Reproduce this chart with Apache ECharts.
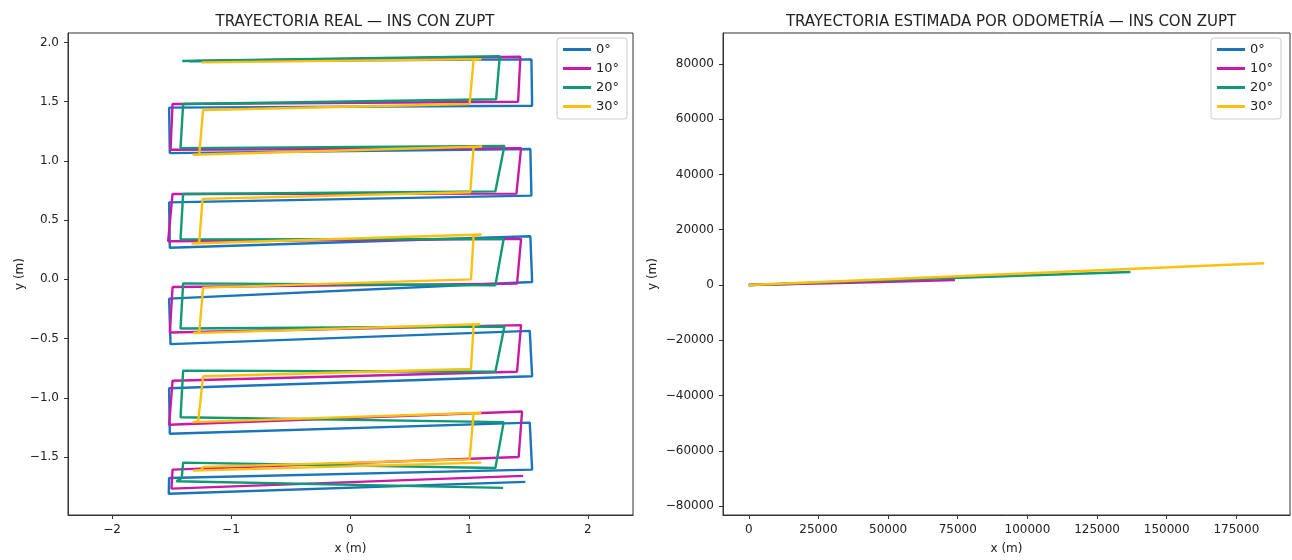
<!DOCTYPE html>
<html>
<head>
<meta charset="utf-8">
<script src="https://cdn.jsdelivr.net/npm/echarts@6/dist/echarts.min.js"></script>
<style>
  html, body { margin: 0; padding: 0; background: #fff; }
  #chart { width: 1292px; height: 560px; }
</style>
</head>
<body>
<div id="chart"></div>
<script>
// leyenda / series
const angles = ['0°', '10°', '20°', '30°']
const colors = ['#1a75bb', '#c81aa6', '#0f9a74', '#fdbf10']

// trayectoria real (x, y en metros)
const real0 = [
    [-1.35, 1.84], [1.526, 1.857], [1.532, 1.466], [-1.52, 1.45], [-1.514, 1.066],
    [1.517, 1.10], [1.526, 0.707], [-1.52, 0.65], [-1.514, 0.267], [1.517, 0.364],
    [1.532, -0.023], [-1.52, -0.163], [-1.508, -0.547], [1.512, -0.435], [1.532, -0.819],
    [-1.52, -0.92], [-1.514, -1.304], [1.512, -1.21], [1.532, -1.607], [-1.52, -1.677],
    [-1.523, -1.81], [1.475, -1.71]
]
const real10 = [
    [-1.3, 1.845], [1.433, 1.879], [1.414, 1.50], [-1.491, 1.481], [-1.508, 1.094],
    [1.439, 1.108], [1.40, 0.724], [-1.491, 0.721], [-1.528, 0.322], [1.439, 0.342],
    [1.405, -0.036], [-1.491, -0.065], [-1.514, -0.449], [1.439, -0.387], [1.405, -0.78],
    [-1.491, -0.856], [-1.52, -1.228], [1.447, -1.116], [1.419, -1.50], [-1.491, -1.607],
    [-1.50, -1.767], [1.456, -1.66]
]
const real20 = [
    [-1.41, 1.843], [1.26, 1.885], [1.27, 1.90], [1.265, 1.885], [1.229, 1.52], [-1.402, 1.481],
    [-1.424, 1.108], [1.299, 1.127], [1.223, 0.743], [-1.402, 0.721], [-1.424, 0.337],
    [1.293, 0.342], [1.223, -0.05], [-1.402, -0.034], [-1.424, -0.415], [1.299, -0.398],
    [1.223, -0.78], [-1.402, -0.771], [-1.424, -1.164], [1.293, -1.206], [1.223, -1.593],
    [-1.402, -1.548], [-1.414, -1.677], [-1.458, -1.705], [1.288, -1.761]
]
const real30 = [
    [-1.247, 1.832], [1.105, 1.859], [1.04, 1.851], [1.006, 1.481], [-1.234, 1.43],
    [-1.267, 1.052], [-1.323, 1.052], [1.111, 1.122], [1.04, 1.118], [1.012, 0.735],
    [-1.239, 0.679], [-1.267, 0.309], [-1.331, 0.303], [1.105, 0.379], [1.04, 0.372],
    [1.018, 0.0], [-1.234, -0.07], [-1.267, -0.449], [-1.318, -0.454], [1.096, -0.379],
    [1.04, -0.385], [1.018, -0.757], [-1.234, -0.819], [-1.276, -1.20], [-1.323, -1.206],
    [1.105, -1.127], [1.04, -1.135], [1.006, -1.52], [-1.234, -1.584], [-1.25, -1.61],
    [-1.32, -1.615], [1.105, -1.548]
]

// trayectoria estimada por odometría (m)
const odo0 = [[0, 0], [20000, 500]]
const odo10 = [[0, 0], [40000, 900], [74000, 1800]]
const odo20 = [[0, 0], [70000, 2400], [137000, 4700]]
const odo30 = [[0, 0], [90000, 3800], [185000, 7900]]

// ticks
const realXTicks = [-2, -1, 0, 1, 2]
const realYTicks = [-1.5, -1, -0.5, 0, 0.5, 1, 1.5, 2]
const odoXTicks = [0, 25000, 50000, 75000, 100000, 125000, 150000, 175000]
const odoYTicks = [-80000, -60000, -40000, -20000, 0, 20000, 40000, 60000, 80000]

const realSeries = [real0, real10, real20, real30]
const odoSeries = [odo0, odo10, odo20, odo30]

const minus = s => String(s).replace('-', '\u2212')
const txt = '#222'
const font = 'DejaVu Sans'

const axisBase = (ticks, fmt) => ({
    type: 'value',
    splitLine: { show: false },
    axisLine: { show: true, onZero: false, lineStyle: { color: '#333', width: 1 } },
    axisTick: { show: true, length: 4, customValues: ticks, lineStyle: { color: '#333' } },
    axisLabel: {
        customValues: ticks, color: txt, fontSize: 12, fontFamily: font, margin: 9,
        formatter: v => minus(fmt(v))
    },
    nameLocation: 'middle',
    nameTextStyle: { color: txt, fontSize: 12, fontFamily: font }
})

const legendBase = {
    data: angles,
    orient: 'vertical',
    icon: 'rect',
    itemWidth: 28,
    itemHeight: 3,
    itemGap: 6,
    padding: [5, 8, 6, 6],
    borderColor: '#ccc',
    borderWidth: 1,
    borderRadius: 3,
    textStyle: { color: txt, fontSize: 13, fontFamily: font }
}

const series = []
realSeries.forEach((d, i) => series.push({
    name: angles[i], type: 'line', xAxisIndex: 0, yAxisIndex: 0, data: d,
    showSymbol: false, color: colors[i], lineStyle: { width: 2.4 }
}))
odoSeries.forEach((d, i) => series.push({
    name: angles[i], type: 'line', xAxisIndex: 1, yAxisIndex: 1, data: d,
    showSymbol: false, color: colors[i], lineStyle: { width: 2.5 }
}))

let myChart = echarts.init(document.getElementById('chart'))
myChart.setOption({
    animation: false,
    backgroundColor: '#fff',
    title: [
        { text: 'TRAYECTORIA REAL — INS CON ZUPT', left: 350, top: 10, textAlign: 'center',
          textStyle: { color: txt, fontSize: 15, fontWeight: 'normal', fontFamily: font } },
        { text: 'TRAYECTORIA ESTIMADA POR ODOMETRÍA — INS CON ZUPT', left: 1006, top: 10, textAlign: 'center',
          textStyle: { color: txt, fontSize: 15, fontWeight: 'normal', fontFamily: font } }
    ],
    legend: [
        Object.assign({}, legendBase, { left: 557, top: 38 }),
        Object.assign({}, legendBase, { left: 1211, top: 38 })
    ],
    grid: [
        { left: 68, top: 33, width: 565, height: 483, show: true, borderColor: '#333', borderWidth: 1 },
        { left: 723, top: 33, width: 567, height: 482, show: true, borderColor: '#333', borderWidth: 1 }
    ],
    xAxis: [
        Object.assign(axisBase(realXTicks, v => v), { gridIndex: 0, min: -2.37, max: 2.38, name: 'x (m)', nameGap: 28 }),
        Object.assign(axisBase(odoXTicks, v => v), { gridIndex: 1, min: -9250, max: 194250, name: 'x (m)', nameGap: 28 })
    ],
    yAxis: [
        Object.assign(axisBase(realYTicks, v => v.toFixed(1)), { gridIndex: 0, min: -1.99, max: 2.08, name: 'y (m)', nameGap: 40 }),
        Object.assign(axisBase(odoYTicks, v => v), { gridIndex: 1, min: -83250, max: 91200, name: 'y (m)', nameGap: 64 })
    ],
    series: series
})
</script>
</body>
</html>
